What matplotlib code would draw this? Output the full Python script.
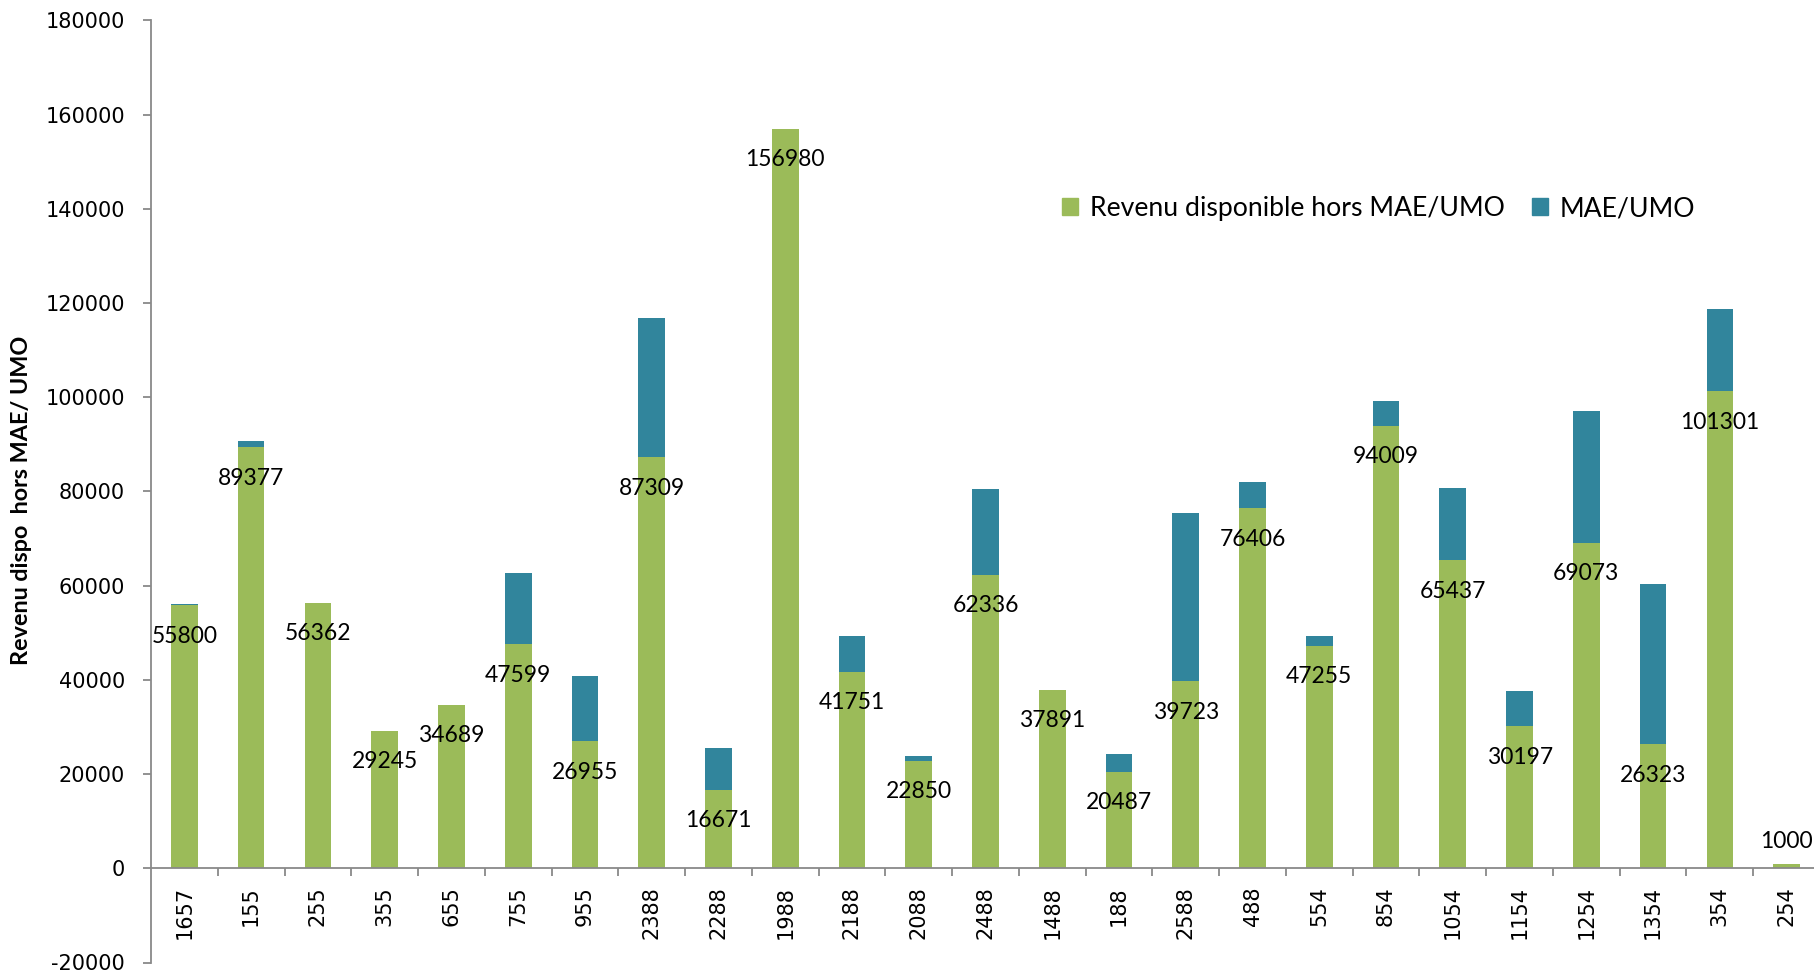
"""Stacked bars: revenu disponible hors MAE/UMO + MAE/UMO per farm."""

import numpy as np
import matplotlib.pyplot as plt
from matplotlib.patches import Patch

farms = ["1657", "155", "255", "355", "655", "755", "955", "2388", "2288",
         "1988", "2188", "2088", "2488", "1488", "188", "2588", "488", "554",
         "854", "1054", "1154", "1254", "1354", "354", "254"]
revenu = [55800, 89377, 56362, 29245, 34689, 47599, 26955, 87309, 16671,
          156980, 41751, 22850, 62336, 37891, 20487, 39723, 76406, 47255,
          94009, 65437, 30197, 69073, 26323, 101301, 1000]
mae = [300, 1400, 0, 0, 0, 15200, 13800, 29500, 8950,
       0, 7500, 1050, 18300, 0, 3800, 35700, 5550, 2000,
       5150, 15250, 7500, 28100, 34000, 17400, 0]
yticks = np.arange(-20000, 180001, 20000)

GREEN = "#9BBB59"
BLUE = "#31859C"
GREY = "#898989"
LABEL_FONT = ["Lato", "DejaVu Sans"]

fig = plt.figure(figsize=(18.14, 9.73), dpi=100)
ax = fig.add_axes([151 / 1814, 10.5 / 973, 1669 / 1814, 942 / 973])

# spine position first: moving it resets the tick objects
for s in ["top", "right"]:
    ax.spines[s].set_visible(False)
ax.spines["bottom"].set_position(("data", 0))
for s in ["left", "bottom"]:
    ax.spines[s].set_color(GREY)
    ax.spines[s].set_linewidth(1.3)

x = np.arange(len(farms))
ax.bar(x, revenu, width=0.4, color=GREEN, zorder=2)
ax.bar(x, mae, width=0.4, bottom=revenu, color=BLUE, zorder=2)

# data labels on the green part
for xi, v in zip(x, revenu):
    off = 11 if v < 5000 else -27
    ax.annotate(str(v), (xi, v), xytext=(0, off), textcoords="offset points",
                ha="center", va="baseline", fontsize=16.5, family=LABEL_FONT,
                color="black", zorder=3)

ax.set_xlim(-0.5, len(farms) - 0.5)
ax.set_ylim(-20000, 180000)
ax.set_yticks(yticks)
ax.set_yticklabels([str(t) for t in yticks], fontsize=15)

ax.set_xticks(x)
ax.set_xticklabels(farms, rotation=90, fontsize=15)
ax.set_xticks(np.arange(0.5, len(farms) - 0.5, 1), minor=True)
ax.tick_params(axis="x", which="major", length=0, pad=13)
ax.tick_params(axis="x", which="minor", length=8 / 1.389, width=1.3,
               color=GREY, direction="out")
ax.tick_params(axis="y", length=8 / 1.389, width=1.3, color=GREY,
               direction="out", pad=13)

fig.text(22 / 1814, 1 - 500 / 973, "Revenu dispo  hors MAE/ UMO", rotation=90,
         ha="center", va="center", fontsize=16.8, fontweight="bold",
         family=LABEL_FONT)

handles = [Patch(color=GREEN, label="Revenu disponible hors MAE/UMO"),
           Patch(color=BLUE, label="MAE/UMO")]
fig.legend(handles=handles, loc="center left",
           bbox_to_anchor=(1062 / 1814, 1 - 208.5 / 973), ncol=2,
           frameon=False, borderpad=0, borderaxespad=0,
           handlelength=0.6, handleheight=0.6, handletextpad=0.45,
           columnspacing=1.0, prop={"family": LABEL_FONT, "size": 19.2})

fig.savefig("out.png", dpi=100)
